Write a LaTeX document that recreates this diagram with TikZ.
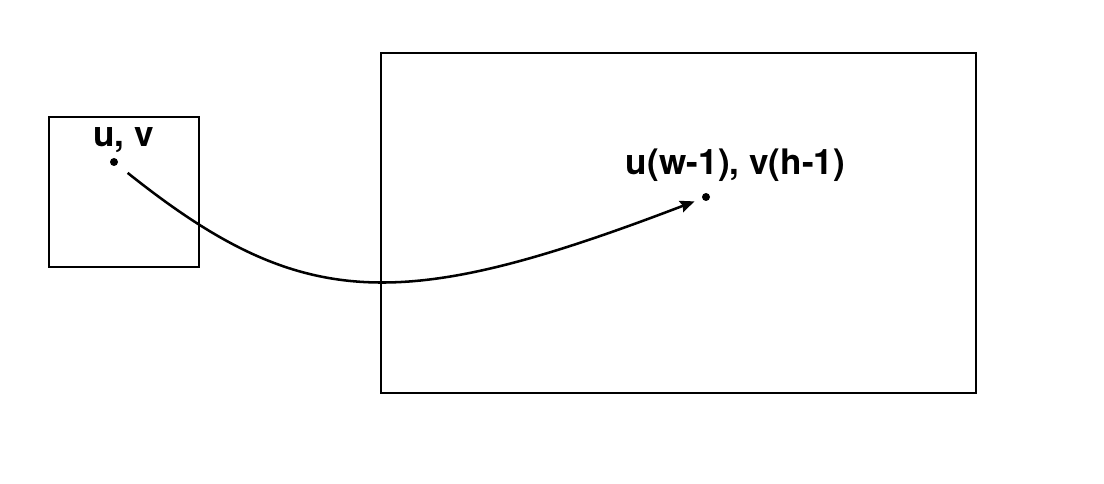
\documentclass[tikz,border=0pt]{standalone}
\usepackage{fontspec}
\setmainfont{TeX Gyre Heros}
\usepackage{tikz}
\usetikzlibrary{positioning, arrows.meta, calc}

\begin{document}
\begin{tikzpicture}[
        x=0.025cm, y=-0.025cm, % one unit = one pixel of the sketch
        >={Stealth[length=0.36cm, width=0.3cm, inset=0.05cm]}, % Arrowhead style
        frame/.style={rectangle, draw, line width=1.4pt, inner sep=0pt},
        dot/.style={circle, fill, inner sep=0pt, minimum size=0.2cm},
        lbl/.style={anchor=base, font=\fontsize{25}{30}\selectfont\bfseries}
    ]
    \useasboundingbox (0,0) rectangle (1104,484);

    % ==========================================
    % Frames
    % ==========================================
    \node[frame, minimum width=3.75cm, minimum height=3.75cm] (small) at (124,192) {};
    \node[frame, minimum width=14.875cm, minimum height=8.5cm] (large) at (678.5,223) {};

    % ==========================================
    % Points and labels
    % ==========================================
    \node[dot] (P) at (114,162) {};
    \node[dot] (Q) at (706,197) {};
    \node[lbl] (Plbl) at (123.5,147) {u, v};
    \node[lbl] (Qlbl) at (735.5,175) {u(w-1), v(h-1)};

    % ==========================================
    % Mapping
    % ==========================================
    \draw[->, line width=1.8pt, shorten <=0.33cm, shorten >=0.2cm]
        (P) .. controls (302,312) and (400,314) .. (Q);

\end{tikzpicture}
\end{document}
